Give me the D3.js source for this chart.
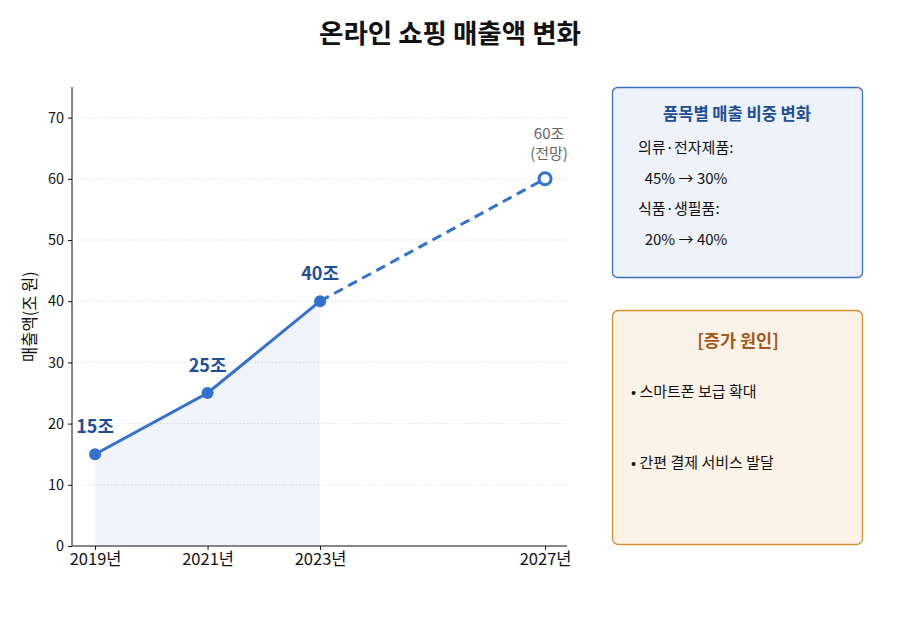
<!DOCTYPE html>
<html><head><meta charset="utf-8">
<script src="https://cdn.jsdelivr.net/npm/d3@7"></script>
<style>body{margin:0;background:#fff;font-family:"Noto Sans CJK KR","Noto Sans",sans-serif;}</style>
</head><body>
<svg id="c" width="900" height="620"></svg>
<script>
const years = [2019, 2021, 2023, 2027];
const sales = [15, 25, 40, 60];
const labels = ["15조", "25조", "40조"];
const forecastLabel = ["60조", "(전망)"];
const yTicks = [0, 10, 20, 30, 40, 50, 60, 70];
const xTickLabels = ["2019년", "2021년", "2023년", "2027년"];
const box1Title = "품목별 매출 비중 변화";
const box1Lines = ["의류·전자제품:", "  45% → 30%", "식품·생필품:", "  20% → 40%"];
const box2Title = "[증가 원인]";
const box2Lines = ["• 스마트폰 보급 확대", "• 간편 결제 서비스 발달"];

const svg = d3.select("#c");
const font = '"Noto Sans CJK KR","Noto Sans",sans-serif';
const L = 72, R = 567, T = 87, B = 546;
const x = d3.scaleLinear().domain([2018.59, 2027.39]).range([L, R]);
const y = d3.scaleLinear().domain([0, 75]).range([B, T]);
const blue = "#3271d2", dark = "#1f4e99";

svg.append("text").attr("x", 450).attr("y", 43).attr("text-anchor", "middle")
  .attr("font-family", font).attr("font-size", 26.5).attr("font-weight", "bold").attr("fill", "#111")
  .text("온라인 쇼핑 매출액 변화");

// grid
svg.append("g").selectAll("line").data(yTicks.filter(d => d > 0)).join("line")
  .attr("x1", L).attr("x2", R).attr("y1", d => y(d)).attr("y2", d => y(d))
  .attr("stroke", "#d5d5d5").attr("stroke-width", 0.8).attr("stroke-dasharray", "1.5,2");

// area
const actual = years.slice(0, 3).map((yr, i) => ({yr, v: sales[i]}));
svg.append("path").datum(actual)
  .attr("d", d3.area().x(d => x(d.yr)).y0(y(0)).y1(d => y(d.v)))
  .attr("fill", "#3a66c8").attr("fill-opacity", 0.07);

// axes
const yAxis = svg.append("g").attr("transform", `translate(${L},0)`)
  .call(d3.axisLeft(y).tickValues(yTicks).tickSize(4).tickPadding(4));
yAxis.select(".domain").attr("d", `M0,${T}V${B}`);
const xAxis = svg.append("g").attr("transform", `translate(0,${B})`)
  .call(d3.axisBottom(x).tickValues(years).tickFormat((d, i) => xTickLabels[i]).tickSize(4).tickPadding(3));
xAxis.select(".domain").attr("d", `M${L},0H${R}`);
[yAxis, xAxis].forEach(a => {
  a.selectAll("text").attr("font-family", font).attr("font-size", 14.5).attr("fill", "#111");
  a.selectAll("line,.domain").attr("stroke", "#111");
});
xAxis.selectAll("text").attr("font-size", 16.5);

svg.append("text").attr("transform", `translate(36,${(T + B) / 2}) rotate(-90)`)
  .attr("text-anchor", "middle").attr("font-family", font).attr("font-size", 16.5).attr("fill", "#111")
  .text("매출액(조 원)");

// lines
const line = d3.line().x(d => x(d.yr)).y(d => y(d.v));
svg.append("path").datum(actual).attr("d", line).attr("fill", "none")
  .attr("stroke", blue).attr("stroke-width", 3);
const fc = [{yr: years[2], v: sales[2]}, {yr: years[3], v: sales[3]}];
svg.append("path").datum(fc).attr("d", line).attr("fill", "none")
  .attr("stroke", blue).attr("stroke-width", 3).attr("stroke-dasharray", "10,6");

svg.append("g").selectAll("circle").data(actual).join("circle")
  .attr("cx", d => x(d.yr)).attr("cy", d => y(d.v)).attr("r", 6).attr("fill", blue);
svg.append("circle").attr("cx", x(years[3])).attr("cy", y(sales[3])).attr("r", 6)
  .attr("fill", "#fff").attr("stroke", blue).attr("stroke-width", 3);

svg.append("g").selectAll("text").data(actual).join("text")
  .attr("x", d => x(d.yr)).attr("y", d => y(d.v) - 21).attr("text-anchor", "middle")
  .attr("font-family", font).attr("font-size", 18).attr("font-weight", "bold").attr("fill", dark)
  .text((d, i) => labels[i]);

svg.append("g").selectAll("text").data(forecastLabel).join("text")
  .attr("x", x(years[3]) + 4).attr("y", (d, i) => y(sales[3]) - 40 + i * 20).attr("text-anchor", "middle")
  .attr("font-family", font).attr("font-size", 15).attr("fill", "#666").text(d => d);

// box 1
svg.append("rect").attr("x", 612.5).attr("y", 87.5).attr("width", 250).attr("height", 190).attr("rx", 5)
  .attr("fill", "#edf2fb").attr("stroke", "#3a73c6").attr("stroke-width", 1.3);
svg.append("text").attr("x", 737).attr("y", 120).attr("text-anchor", "middle")
  .attr("font-family", font).attr("font-size", 16.5).attr("font-weight", "bold").attr("fill", dark).text(box1Title);
svg.append("g").selectAll("text").data(box1Lines).join("text")
  .attr("x", 638).attr("y", (d, i) => 153 + i * 30.5)
  .attr("font-family", font).attr("font-size", 15).attr("fill", "#111")
  .attr("xml:space", "preserve").style("white-space", "pre").text(d => d);

// box 2
svg.append("rect").attr("x", 612.5).attr("y", 310.5).attr("width", 250).attr("height", 234).attr("rx", 6)
  .attr("fill", "#fcf3e8").attr("stroke", "#d38f31").attr("stroke-width", 1.3);
svg.append("text").attr("x", 738).attr("y", 347).attr("text-anchor", "middle")
  .attr("font-family", font).attr("font-size", 17.5).attr("font-weight", "bold").attr("fill", "#a5581c").text(box2Title);
svg.append("g").selectAll("text").data(box2Lines).join("text")
  .attr("x", 631).attr("y", (d, i) => 397 + i * 71)
  .attr("font-family", font).attr("font-size", 15).attr("fill", "#111").text(d => d);
</script>
</body></html>
